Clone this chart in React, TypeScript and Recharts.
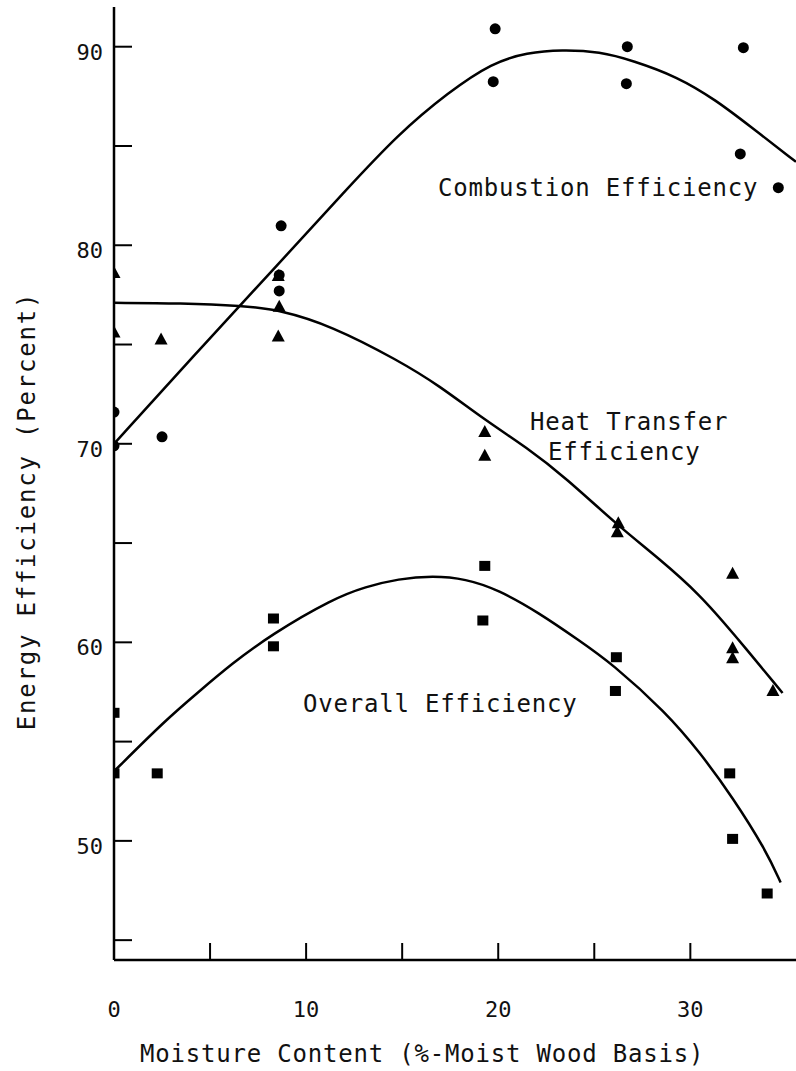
import React from "react";
import { ComposedChart, Line, Scatter, XAxis, YAxis } from "recharts";

const FONT = '"DejaVu Sans Mono", "Liberation Mono", monospace';

// measured data points: [moisture %, efficiency %]
const combustionPoints = [
  [0, 71.6], [0, 69.9], [2.5, 70.35], [8.7, 80.98], [8.6, 78.5], [8.6, 77.7],
  [19.84, 90.9], [19.74, 88.24], [26.72, 90.0], [26.67, 88.14], [32.76, 89.95],
  [32.6, 84.6], [34.58, 82.9],
];
const heatPoints = [
  [0, 78.6], [0, 75.6], [2.45, 75.25], [8.6, 76.9], [8.55, 75.4], [8.55, 78.45],
  [19.3, 70.6], [19.3, 69.4], [26.25, 66.0], [26.2, 65.55], [32.2, 63.45],
  [32.2, 59.7], [32.2, 59.2], [34.3, 57.55],
];
const overallPoints = [
  [0, 56.45], [0, 53.4], [2.25, 53.4], [8.3, 61.2], [8.3, 59.8], [19.3, 63.85],
  [19.2, 61.1], [26.15, 59.25], [26.1, 57.55], [32.05, 53.4], [32.2, 50.1], [34.0, 47.35],
];

// fitted curves
const combustionCurve = [
  [0, 70], [4.3, 74.6], [8.6, 79.1], [12, 82.7], [14.8, 85.6], [17.4, 87.7],
  [19.7, 89.2], [21.5, 89.7], [23.3, 89.85], [25.3, 89.75], [27, 89.3],
  [29.3, 88.5], [31.35, 87.3], [33.1, 86.0], [35.5, 84.2],
];
const heatCurve = [
  [0, 77.1], [3.5, 77.08], [6.7, 76.95], [8.6, 76.75], [11.3, 75.95], [14.8, 74.2],
  [16.9, 72.95], [19.3, 71.2], [21.5, 69.8], [23.5, 68.3], [26.2, 65.9],
  [28.4, 64.2], [30.5, 62.4], [32.2, 60.5], [34.8, 57.45],
];
const overallCurve = [
  [0, 53.5], [2.7, 56.1], [4.4, 57.5], [6.1, 58.9], [8.2, 60.4], [11.4, 62.2],
  [13.1, 62.8], [14.8, 63.2], [16.6, 63.35], [18.3, 63.2], [20, 62.65],
  [22.1, 61.5], [24.2, 60.1], [25.9, 58.95], [28.75, 56.45], [30.5, 54.45],
  [32.2, 52.2], [33.95, 49.5], [34.7, 47.9],
];

const xTicks = [0, 5, 10, 15, 20, 25, 30];
const yTicks = [45, 50, 55, 60, 65, 70, 75, 80, 85, 90];

const toRows = (arr: number[][]) => arr.map(([x, y]) => ({ x, y }));

function XTick(props: any) {
  const { x, y, payload } = props;
  const v = payload.value;
  return (
    <g>
      {v > 0 && <line x1={x} y1={y} x2={x} y2={y - 17} stroke="#000" strokeWidth={2} />}
      {v % 10 === 0 && (
        <text x={x} y={y + 57} textAnchor="middle" fontFamily={FONT} fontSize={22} fill="#111">
          {v}
        </text>
      )}
    </g>
  );
}

function YTick(props: any) {
  const { x, y, payload } = props;
  const v = payload.value;
  return (
    <g>
      <line x1={x} y1={y} x2={x + 18} y2={y} stroke="#000" strokeWidth={2} />
      {v % 10 === 0 && (
        <text x={x - 11} y={y + 13} textAnchor="end" fontFamily={FONT} fontSize={22} fill="#111">
          {v}
        </text>
      )}
    </g>
  );
}

const Circle = (p: any) => <circle cx={p.cx} cy={p.cy} r={5.5} fill="#000" />;
const Triangle = (p: any) => (
  <path d={`M${p.cx},${p.cy - 7} L${p.cx + 6.5},${p.cy + 5} L${p.cx - 6.5},${p.cy + 5} Z`} fill="#000" />
);
const Square = (p: any) => <rect x={p.cx - 5.5} y={p.cy - 5} width={11} height={10} fill="#000" />;

const textStyle: React.CSSProperties = {
  position: "absolute",
  fontFamily: FONT,
  fontSize: 24,
  lineHeight: "24px",
  letterSpacing: 0.8,
  color: "#111",
  whiteSpace: "nowrap",
};

export default function App() {
  return (
    <div style={{ position: "absolute", left: 0, top: 0, width: 796, height: 1071, background: "#fff" }}>
      <ComposedChart width={796} height={1071} margin={{ top: 7, right: 0, bottom: 11, left: 0 }}>
        <XAxis
          type="number"
          dataKey="x"
          domain={[0, 35.5]}
          ticks={xTicks}
          tick={<XTick />}
          tickLine={false}
          tickSize={0}
          tickMargin={0}
          height={100}
          axisLine={{ stroke: "#000", strokeWidth: 2.5 }}
          allowDataOverflow
        />
        <YAxis
          type="number"
          dataKey="y"
          domain={[44, 92]}
          ticks={yTicks}
          tick={<YTick />}
          tickLine={false}
          tickSize={0}
          tickMargin={0}
          width={114}
          axisLine={{ stroke: "#000", strokeWidth: 2.5 }}
          allowDataOverflow
        />
        <Line data={toRows(combustionCurve)} dataKey="y" type="basis" stroke="#000" strokeWidth={2.5} dot={false} isAnimationActive={false} />
        <Line data={toRows(heatCurve)} dataKey="y" type="basis" stroke="#000" strokeWidth={2.5} dot={false} isAnimationActive={false} />
        <Line data={toRows(overallCurve)} dataKey="y" type="basis" stroke="#000" strokeWidth={2.5} dot={false} isAnimationActive={false} />
        <Scatter data={toRows(combustionPoints)} dataKey="y" shape={Circle} isAnimationActive={false} />
        <Scatter data={toRows(heatPoints)} dataKey="y" shape={Triangle} isAnimationActive={false} />
        <Scatter data={toRows(overallPoints)} dataKey="y" shape={Square} isAnimationActive={false} />
      </ComposedChart>

      <div style={{ ...textStyle, left: 438, top: 176 }}>Combustion Efficiency</div>
      <div style={{ ...textStyle, left: 530, top: 410 }}>Heat Transfer</div>
      <div style={{ ...textStyle, left: 548, top: 440 }}>Efficiency</div>
      <div style={{ ...textStyle, left: 303, top: 692 }}>Overall Efficiency</div>
      <div style={{ ...textStyle, left: 140, top: 1042 }}>Moisture Content (%-Moist Wood Basis)</div>
      <div
        style={{
          ...textStyle,
          left: 27,
          top: 511,
          letterSpacing: 1.8,
          transform: "translate(-50%, -50%) rotate(-90deg)",
        }}
      >
        Energy Efficiency (Percent)
      </div>
    </div>
  );
}
